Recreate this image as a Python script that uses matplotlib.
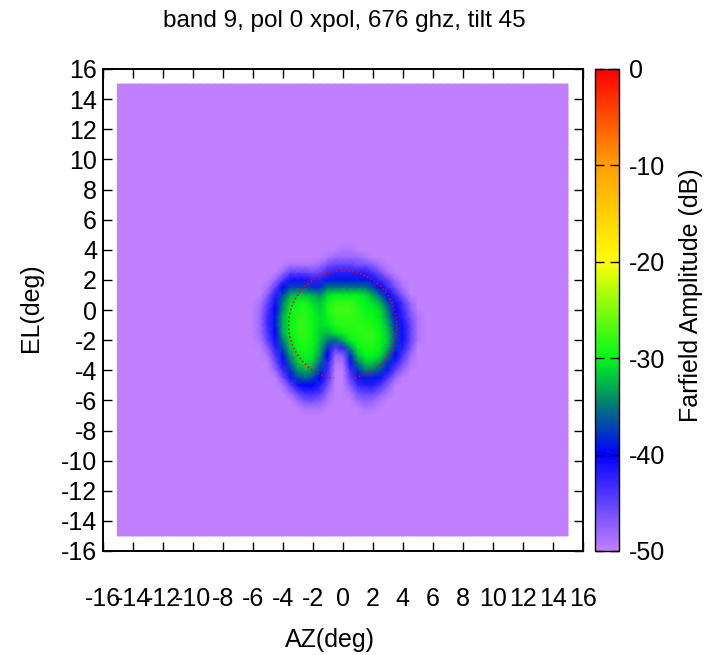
import numpy as np
import matplotlib
matplotlib.use("Agg")
import matplotlib.pyplot as plt
from matplotlib.colors import LinearSegmentedColormap

plt.rcParams['font.family'] = ['Liberation Sans', 'DejaVu Sans']
plt.rcParams['axes.unicode_minus'] = False

# far-field map: the grid runs -15..15 deg, everything outside the beam is at the floor
GRID_MIN, GRID_MAX, STEP = -15.0, 15.0, 0.5
FLOOR_DB = -50.0

# beam region (dB), rows from top (EL=4) to bottom (EL=-7)
beam_az = [-5.5, -5.0, -4.5, -4.0, -3.5, -3.0, -2.5, -2.0, -1.5, -1.0, -0.5, 0.0,
           0.5, 1.0, 1.5, 2.0, 2.5, 3.0, 3.5, 4.0, 4.5, 5.0, 5.5]
beam_el = [4.0, 3.5, 3.0, 2.5, 2.0, 1.5, 1.0, 0.5, 0.0, -0.5, -1.0, -1.5,
           -2.0, -2.5, -3.0, -3.5, -4.0, -4.5, -5.0, -5.5, -6.0, -6.5, -7.0]
beam_db = [
    [-50, -50, -50, -50, -50, -50, -50, -50, -50, -50, -50, -49, -49, -50, -50, -50, -50, -50, -50, -50, -50, -50, -50],
    [-50, -50, -50, -50, -50, -50, -50, -50, -50, -49, -48, -48, -48, -48, -49, -50, -50, -50, -50, -50, -50, -50, -50],
    [-50, -50, -50, -50, -49, -49, -49, -49, -48, -46, -45, -45, -45, -46, -46, -47, -49, -50, -50, -50, -50, -50, -50],
    [-50, -50, -50, -48, -45, -45, -45, -46, -45, -43, -42, -42, -42, -42, -42, -44, -46, -49, -50, -50, -50, -50, -50],
    [-50, -50, -48, -44, -41, -41, -41, -42, -42, -39, -39, -39, -39, -39, -39, -41, -43, -45, -48, -50, -50, -50, -50],
    [-50, -49, -45, -40, -37, -37, -37, -38, -38, -35, -35, -35, -35, -35, -35, -37, -40, -43, -46, -49, -50, -50, -50],
    [-50, -47, -42, -37, -33, -32, -32, -33, -34, -31, -30, -30, -30, -30, -31, -33, -36, -40, -43, -47, -50, -50, -50],
    [-49, -45, -41, -35, -31, -29.5, -29, -31, -32, -29.5, -28, -28, -28, -29, -30, -31, -33, -37, -41, -44, -48, -50, -50],
    [-48, -44, -40, -34, -30, -29, -28.5, -30, -31.5, -29, -27.5, -27.5, -27.5, -28.5, -29.5, -30, -31, -35, -40, -43, -47, -50, -50],
    [-48, -43, -39, -33, -30, -28.5, -28.5, -29.5, -31, -29.5, -28, -28, -28, -28.5, -29, -29.5, -30.5, -34, -39, -42, -46, -49, -50],
    [-48, -43, -39, -33, -30, -28.5, -28.5, -29.5, -31, -30.5, -29, -28.5, -28.5, -28.5, -28.5, -29, -30, -33, -38, -41, -45, -49, -50],
    [-48, -44, -40, -33, -30, -28.5, -28.5, -29.5, -31.5, -32, -30.5, -29.5, -29, -28.5, -28.5, -28.5, -29.5, -32, -37, -41, -45, -49, -50],
    [-49, -45, -41, -35, -31, -29, -28.5, -29.5, -32, -35, -36, -33, -30, -29, -28.5, -28.5, -29.5, -32, -37, -41, -45, -49, -50],
    [-50, -47, -42, -37, -32, -29.5, -29, -30, -33, -38, -44, -42, -34, -30, -29, -29, -30, -33, -38, -42, -46, -50, -50],
    [-50, -49, -44, -39, -34, -30.5, -29.5, -30.5, -34, -40, -48, -47, -38, -32, -30, -30, -31, -35, -40, -44, -48, -50, -50],
    [-50, -50, -46, -41, -36, -32, -30.5, -32, -36, -42, -49, -49, -41, -35, -32, -32, -34, -38, -42, -46, -49, -50, -50],
    [-50, -50, -48, -43, -38, -34, -33, -34, -38, -43, -50, -50, -43, -38, -35, -35, -37, -41, -45, -48, -50, -50, -50],
    [-50, -50, -50, -46, -41, -37, -36, -37, -40, -44, -50, -50, -45, -41, -39, -39, -41, -44, -48, -50, -50, -50, -50],
    [-50, -50, -50, -49, -45, -41, -40, -40, -42, -46, -50, -50, -47, -43, -42, -42, -44, -47, -50, -50, -50, -50, -50],
    [-50, -50, -50, -50, -48, -45, -43, -43, -44, -48, -50, -50, -49, -46, -45, -45, -47, -49, -50, -50, -50, -50, -50],
    [-50, -50, -50, -50, -50, -48, -46, -46, -47, -49, -50, -50, -50, -48, -47, -48, -49, -50, -50, -50, -50, -50, -50],
    [-50, -50, -50, -50, -50, -50, -49, -49, -49, -50, -50, -50, -50, -50, -49, -49, -50, -50, -50, -50, -50, -50, -50],
    [-50, -50, -50, -50, -50, -50, -50, -50, -50, -50, -50, -50, -50, -50, -50, -50, -50, -50, -50, -50, -50, -50, -50],
]

# overlay circle (deg) and the arc that is not drawn
circle_center = (0.0, -1.0)
circle_radius = 3.6
circle_gap = (259.0, 283.0)

cbar_ticks = [0, -10, -20, -30, -40, -50]
axis_ticks = list(range(-16, 17, 2))

# gnuplot-like palette
palette = [(-50, "#c080ff"), (-40, "#0000ff"), (-35, "#007878"), (-30, "#00f81a"),
           (-20, "#ffff00"), (-10, "#ffa000"), (0, "#ff0000")]
cmap = LinearSegmentedColormap.from_list(
    "ff", [((v + 50) / 50.0, c) for v, c in palette])

# build the full grid
grid = np.arange(GRID_MIN, GRID_MAX + STEP / 2, STEP)
amp = np.full((len(grid), len(grid)), FLOOR_DB)
for el, row in zip(beam_el, beam_db):
    i = int(round((el - GRID_MIN) / STEP))
    for az, v in zip(beam_az, row):
        j = int(round((az - GRID_MIN) / STEP))
        amp[i, j] = v

W, H = 706, 655
fig = plt.figure(figsize=(W / 100, H / 100), dpi=100)
ax = fig.add_axes([102.5 / W, 1 - 551 / H, 480.5 / W, 482 / H])

mesh = ax.pcolormesh(grid, grid, amp, shading="gouraud", cmap=cmap, vmin=-50, vmax=0)

# red dotted circle
t = np.radians(np.linspace(circle_gap[1], circle_gap[0] + 360, 400))
ax.plot(circle_center[0] + circle_radius * np.cos(t),
        circle_center[1] + circle_radius * np.sin(t),
        color="red", lw=1.1, ls=(0, (1, 1.6)))

ax.set_xlim(-16, 16)
ax.set_ylim(-16, 16)
ax.set_xticks(axis_ticks)
ax.set_yticks(axis_ticks)
ax.tick_params(direction="in", length=6.5, width=1, top=True, right=True,
               labelsize=18, colors="black")
ax.tick_params(axis="x", pad=26)
ax.tick_params(axis="y", pad=4)
for s in ax.spines.values():
    s.set_linewidth(1.4)

# colorbar
cax = fig.add_axes([595 / W, 1 - 551 / H, 24 / W, 482 / H])
cb = fig.colorbar(mesh, cax=cax)
cb.set_ticks(cbar_ticks)
cb.outline.set_linewidth(1)
cax.tick_params(direction="in", length=6.5, width=1, left=True, right=True,
                labelsize=18, pad=7)

fig.text(344 / W, 1 - 21 / H, "band 9, pol 0 xpol, 676 ghz, tilt 45",
         ha="center", va="center", fontsize=17.5)
fig.text(330 / W, 1 - 640 / H, "AZ(deg)", ha="center", va="center", fontsize=18)
fig.text(31 / W, 1 - 308 / H, "EL(deg)", ha="center", va="center",
         rotation=90, fontsize=18)
fig.text(691 / W, 1 - 295 / H, "Farfield Amplitude (dB)", ha="center",
         va="center", rotation=90, fontsize=18)

fig.savefig("out.png", dpi=100)
